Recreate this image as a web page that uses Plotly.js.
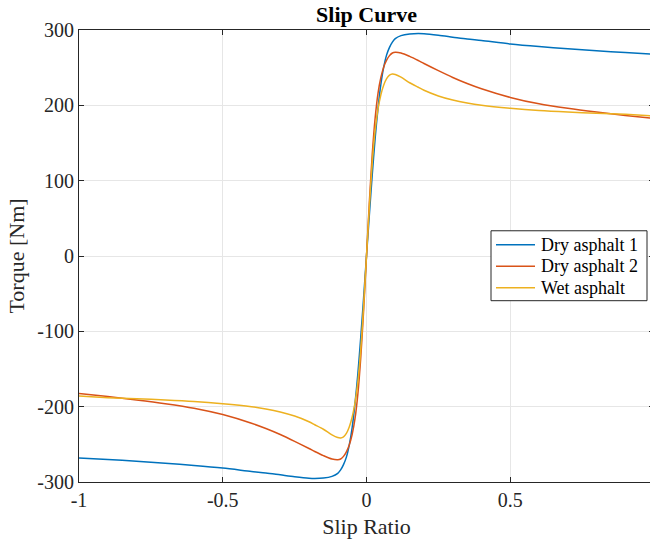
<!DOCTYPE html>
<html>
<head>
<meta charset="utf-8">
<script src="https://cdn.plot.ly/plotly-3.0.1.min.js"></script>
<style>
  html, body { margin: 0; padding: 0; background: #ffffff; width: 650px; height: 542px; overflow: hidden; }
  #chart { width: 654px; height: 542px; }
</style>
</head>
<body>
<div id="chart"></div>
<script>
// Slip ratio samples shared by all three road surfaces
const slip = [-1, -0.9, -0.8, -0.7, -0.6, -0.5, -0.4, -0.35, -0.3, -0.25, -0.2, -0.18, -0.15, -0.12, -0.1,
  -0.09, -0.08, -0.07, -0.06, -0.05, -0.04, -0.03, -0.02, -0.01, 0,
  0.01, 0.02, 0.03, 0.04, 0.05, 0.06, 0.07, 0.08, 0.09, 0.1, 0.12, 0.15, 0.18, 0.2,
  0.25, 0.3, 0.35, 0.4, 0.5, 0.6, 0.7, 0.8, 0.9, 1.0];

// Torque [Nm] for each surface
const dryAsphalt1 = [-268, -270, -272.5, -275, -278, -281.5, -286, -288, -290.5, -293, -295, -295.3, -294.8, -292.5, -288.5,
  -284, -277, -267, -251, -228, -196, -156, -108, -55, 0,
  55, 108, 156, 196, 228, 251, 267, 277, 284, 288.5, 292.5, 294.8, 295.3, 295,
  293, 290.5, 288, 286, 281.5, 278, 275, 272.5, 270, 268];

const dryAsphalt2 = [-182.5, -186.5, -191, -196, -202, -210.5, -222, -229, -237, -246, -255.5, -259.5, -265, -269.5, -270.5,
  -269.5, -266, -260, -251, -237, -216, -183, -135, -72, 0,
  72, 135, 183, 216, 237, 251, 260, 266, 269.5, 270.5, 269.5, 265, 259.5, 255.5,
  246, 237, 229, 222, 210.5, 202, 196, 191, 186.5, 182.5];

const wetAsphalt = [-186, -188, -189.5, -191, -193, -196, -200, -203, -207, -212.5, -220, -224, -230, -237.5, -241,
  -241.5, -240, -235.5, -227, -214, -195, -167, -124, -66, 0,
  66, 124, 167, 195, 214, 227, 235.5, 240, 241.5, 241, 237.5, 230, 224, 220,
  212.5, 207, 203, 200, 196, 193, 191, 189.5, 188, 186];

const seriesNames = ['Dry asphalt 1', 'Dry asphalt 2', 'Wet asphalt'];
const seriesColors = ['#0072BD', '#D95319', '#EDB120'];

// Axis ticks (plain hyphen for negatives)
const xTickVals = [-1, -0.5, 0, 0.5, 1];
const xTickText = ['-1', '-0.5', '0', '0.5', '1'];
const yTickVals = [-300, -200, -100, 0, 100, 200, 300];
const yTickText = ['-300', '-200', '-100', '0', '100', '200', '300'];

const serif = 'Liberation Serif, Times New Roman, serif';
const axisInk = '#262626';

// Figure geometry in pixels
const W = 654, H = 542;
const M = { l: 79, r: 0, t: 30, b: 59.5 };
const plotW = W - M.l - M.r, plotH = H - M.t - M.b;
const px = x => (x - M.l) / plotW;        // pixel -> paper x
const py = y => (H - M.b - y) / plotH;    // pixel -> paper y

const traces = [dryAsphalt1, dryAsphalt2, wetAsphalt].map((torque, i) => ({
  x: slip,
  y: torque,
  type: 'scatter',
  mode: 'lines',
  name: seriesNames[i],
  line: { color: seriesColors[i], width: 1.5, shape: 'spline', smoothing: 0.8 }
}));

// Boxed legend: frame, line samples and labels
const legendBox = { x0: 491, x1: 647, y0: 231, y1: 301 };
const rowY = [245, 266.5, 288];
const shapes = [{
  type: 'rect', xref: 'paper', yref: 'paper',
  x0: px(legendBox.x0), x1: px(legendBox.x1), y0: py(legendBox.y1), y1: py(legendBox.y0),
  line: { color: axisInk, width: 1 }, fillcolor: '#ffffff', layer: 'above'
}];
const annotations = [];
seriesNames.forEach((name, i) => {
  shapes.push({
    type: 'line', xref: 'paper', yref: 'paper',
    x0: px(496), x1: px(535), y0: py(rowY[i]), y1: py(rowY[i]),
    line: { color: seriesColors[i], width: 1.5 }, layer: 'above'
  });
  annotations.push({
    xref: 'paper', yref: 'paper', x: px(539), y: py(rowY[i]),
    xanchor: 'left', yanchor: 'middle', showarrow: false,
    text: name, font: { family: serif, size: 18, color: '#000000' }
  });
});

const layout = {
  width: W,
  height: H,
  margin: M,
  paper_bgcolor: '#ffffff',
  plot_bgcolor: '#ffffff',
  font: { family: serif, color: axisInk, size: 20 },
  showlegend: false,
  title: {
    text: '<b>Slip Curve</b>',
    font: { family: serif, size: 22, color: '#000000' },
    x: 0.5, xref: 'paper', xanchor: 'center',
    y: 0.974, yref: 'container', yanchor: 'middle'
  },
  xaxis: {
    range: [-1, 1],
    tickvals: xTickVals,
    ticktext: xTickText,
    ticks: 'inside', ticklen: 5, tickcolor: axisInk,
    showline: true, linecolor: axisInk, linewidth: 1, mirror: 'ticks',
    showgrid: true, gridcolor: '#e6e6e6', gridwidth: 1,
    zeroline: false,
    tickfont: { family: serif, size: 20, color: axisInk },
    title: { text: 'Slip Ratio', font: { family: serif, size: 22, color: axisInk }, standoff: 8 }
  },
  yaxis: {
    range: [-300, 300],
    tickvals: yTickVals,
    ticktext: yTickText,
    ticks: 'inside', ticklen: 5, tickcolor: axisInk,
    showline: true, linecolor: axisInk, linewidth: 1, mirror: 'ticks',
    showgrid: true, gridcolor: '#e6e6e6', gridwidth: 1,
    zeroline: false,
    tickfont: { family: serif, size: 20, color: axisInk },
    title: { text: 'Torque [Nm]', font: { family: serif, size: 22, color: axisInk }, standoff: 6 }
  },
  shapes: shapes,
  annotations: annotations
};

Plotly.newPlot('chart', traces, layout, { displayModeBar: false, staticPlot: true });
</script>
</body>
</html>
